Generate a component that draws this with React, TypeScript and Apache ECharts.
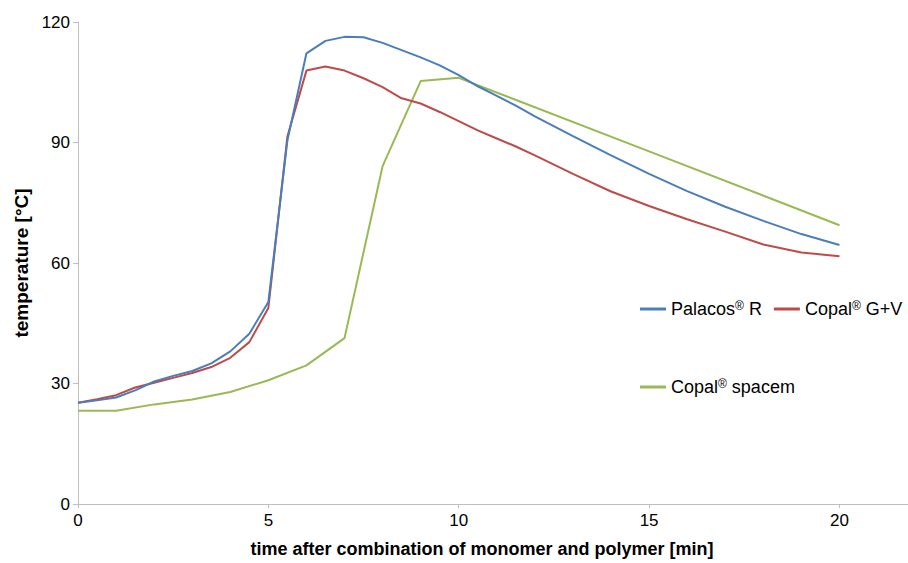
import React, { useEffect, useRef } from "react";
import * as echarts from "echarts";

const timeFine = [0, 0.5, 1, 1.5, 2, 2.5, 3, 3.5, 4, 4.5, 5, 5.5, 6, 6.5, 7, 7.5, 8, 8.5, 9, 9.5, 10, 10.5, 11, 11.5, 12, 13, 14, 15, 16, 17, 18, 19, 20];
const palacosR = [25.2, 25.8, 26.5, 28.3, 30.5, 31.9, 33.1, 35.0, 38.0, 42.4, 50.3, 90.5, 112.2, 115.3, 116.3, 116.2, 114.8, 113.0, 111.2, 109.2, 106.8, 104.0, 101.6, 99.2, 96.5, 91.6, 86.8, 82.2, 77.9, 74.0, 70.5, 67.2, 64.5];
const copalGV = [25.2, 26.1, 27.1, 29.0, 30.2, 31.4, 32.6, 34.1, 36.4, 40.3, 48.8, 91.5, 107.9, 108.9, 107.9, 106.0, 103.8, 101.0, 99.7, 97.6, 95.3, 93.0, 91.0, 89.0, 86.8, 82.2, 77.8, 74.2, 70.9, 67.8, 64.6, 62.6, 61.7];
const timeSpacem = [0, 1, 2, 3, 4, 5, 6, 7, 8, 9, 10, 15, 20];
const copalSpacem = [23.2, 23.2, 24.8, 26.0, 27.9, 30.8, 34.5, 41.3, 84.1, 105.3, 106.1, 87.8, 69.4];

const xTicks = [0, 5, 10, 15, 20];
const seriesNames = ["Palacos® R", "Copal® G+V", "Copal® spacem"];
const colors = ["#4a7ebb", "#be4b48", "#98b954"];

const FONT = "'Liberation Sans', Arial, sans-serif";

export default function App() {
  const ref = useRef<HTMLDivElement>(null);
  useEffect(() => {
    document.body.style.margin = "0";
    const chart = echarts.init(ref.current!, undefined, { renderer: "svg" });
    const pairs = (xs: number[], ys: number[]) => xs.map((x, i) => [x, ys[i]]);
    const legendFormatter = (name: string) => name.replace("®", "{sup|®}");
    const legendText = {
      fontSize: 18,
      fontFamily: FONT,
      color: "#000",
      rich: { sup: { fontSize: 12, fontFamily: FONT, color: "#000", verticalAlign: "top" } },
    };
    chart.setOption({
      animation: false,
      backgroundColor: "#fff",
      textStyle: { fontFamily: FONT },
      grid: { left: 78, right: 0, top: 22, bottom: 57, containLabel: false },
      legend: [
        {
          data: [seriesNames[0], seriesNames[1]],
          left: 635,
          top: 295,
          orient: "horizontal",
          itemWidth: 26,
          itemHeight: 3,
          itemGap: 12,
          icon: "rect",
          formatter: legendFormatter,
          textStyle: legendText,
        },
        {
          data: [seriesNames[2]],
          left: 635,
          top: 373,
          itemWidth: 26,
          itemHeight: 3,
          icon: "rect",
          formatter: legendFormatter,
          textStyle: legendText,
        },
      ],
      xAxis: {
        type: "value",
        min: 0,
        max: 21.8,
        interval: 5,
        name: "time after combination of monomer and polymer [min]",
        nameLocation: "middle",
        nameGap: 36,
        nameTextStyle: { fontSize: 18, fontWeight: "bold", color: "#000", fontFamily: FONT, padding: [0, 22, 0, 0] },
        axisLine: { show: true, lineStyle: { color: "#bfbfbf", width: 1 } },
        axisTick: { show: true, length: 4, lineStyle: { color: "#bfbfbf" }, customValues: xTicks },
        axisLabel: { fontSize: 17, color: "#000", margin: 8, fontFamily: FONT, customValues: xTicks },
        splitLine: { show: false },
      },
      yAxis: {
        type: "value",
        min: 0,
        max: 120,
        interval: 30,
        name: "temperature [°C]",
        nameLocation: "middle",
        nameGap: 47,
        nameTextStyle: { fontSize: 19, fontWeight: "bold", color: "#000", fontFamily: FONT },
        axisLine: { show: true, lineStyle: { color: "#bfbfbf", width: 1 } },
        axisTick: { show: true, length: 5, lineStyle: { color: "#bfbfbf" } },
        axisLabel: { fontSize: 17, color: "#000", margin: 8, fontFamily: FONT },
        splitLine: { show: false },
      },
      series: [
        {
          name: seriesNames[0],
          type: "line",
          data: pairs(timeFine, palacosR),
          symbol: "none",
          lineStyle: { color: colors[0], width: 2 },
          itemStyle: { color: colors[0] },
          z: 3,
        },
        {
          name: seriesNames[1],
          type: "line",
          data: pairs(timeFine, copalGV),
          symbol: "none",
          lineStyle: { color: colors[1], width: 2 },
          itemStyle: { color: colors[1] },
          z: 2,
        },
        {
          name: seriesNames[2],
          type: "line",
          data: pairs(timeSpacem, copalSpacem),
          symbol: "none",
          lineStyle: { color: colors[2], width: 2 },
          itemStyle: { color: colors[2] },
          z: 1,
        },
      ],
    });
    return () => chart.dispose();
  }, []);
  return <div ref={ref} style={{ width: 908, height: 563, position: "absolute", left: 0, top: 0 }} />;
}
